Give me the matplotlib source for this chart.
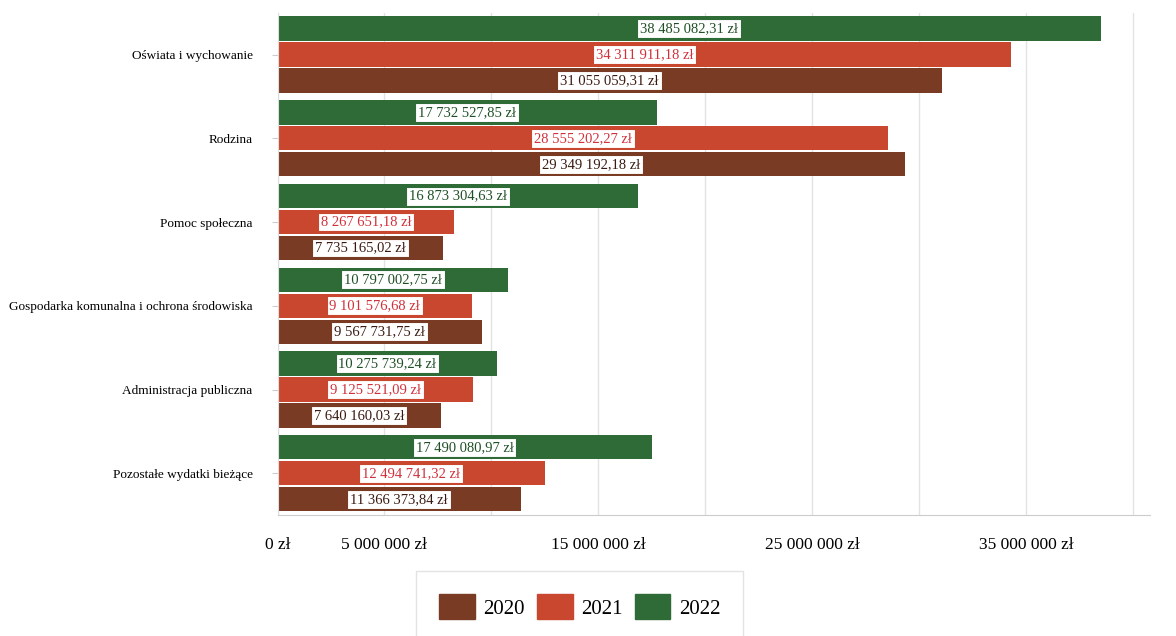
import numpy as np
import matplotlib.pyplot as plt
from matplotlib.patches import Patch

plt.rcParams['font.family'] = ['Liberation Serif', 'DejaVu Serif']

# Dane (zł)
categories = ['Oświata i wychowanie', 'Rodzina', 'Pomoc społeczna',
              'Gospodarka komunalna i ochrona środowiska',
              'Administracja publiczna', 'Pozostałe wydatki bieżące']
v2020 = [31055059.31, 29349192.18, 7735165.02, 9567731.75, 7640160.03, 11366373.84]
v2021 = [34311911.18, 28555202.27, 8267651.18, 9101576.68, 9125521.09, 12494741.32]
v2022 = [38485082.31, 17732527.85, 16873304.63, 10797002.75, 10275739.24, 17490080.97]
years = ['2020', '2021', '2022']
tick_values = [0, 5e6, 15e6, 25e6, 35e6]

colors = {'2020': '#7a3b24', '2021': '#c9472e', '2022': '#2f6b37'}
text_colors = {'2020': '#3a1a10', '2021': '#d0303a', '2022': '#1f4f25'}

def fmt(v):
    whole = int(v)
    cents = int(round((v - whole) * 100))
    s = f"{whole:,}".replace(',', ' ')
    return f"{s},{cents:02d} zł"

fig = plt.figure(figsize=(11.76, 6.36), dpi=100)
ax = fig.add_axes([0.236, 0.19, 0.742, 0.79])

y = np.arange(len(categories))
h = 0.29
offsets = {'2022': -0.31, '2021': 0.0, '2020': 0.31}
series = {'2020': v2020, '2021': v2021, '2022': v2022}

for yr in years:
    vals = series[yr]
    ax.barh(y + offsets[yr], vals, height=h, color=colors[yr], zorder=2)
    for yi, v in zip(y, vals):
        ax.text(v / 2, yi + offsets[yr], fmt(v), ha='center', va='center',
                fontsize=10.5, color=text_colors[yr], zorder=3,
                bbox=dict(boxstyle='square,pad=0.2', fc='white',
                          ec=colors[yr], lw=0.8))

ax.set_yticks(y)
ax.set_yticklabels(categories, fontsize=9.5)
ax.set_ylim(len(categories) - 0.5, -0.5)
ax.set_xlim(0, 40.8e6)

ticks = np.arange(0, 41e6, 5e6)
ax.set_xticks(ticks)
ax.set_xticklabels([f"{int(t):,} zł".replace(',', ' ') if t in tick_values else ''
                    for t in ticks], fontsize=12.5)
ax.tick_params(axis='x', length=0, pad=16)
ax.tick_params(axis='y', length=4, color='#cccccc', pad=14)
ax.grid(axis='x', color='#e3e3e3', lw=1, zorder=0)

for side in ['top', 'right']:
    ax.spines[side].set_visible(False)
ax.spines['left'].set_color('#dddddd')
ax.spines['bottom'].set_color('#cccccc')

handles = [Patch(color=colors[yr], label=yr) for yr in years]
leg = fig.legend(handles=handles, loc='lower center', bbox_to_anchor=(0.493, -0.01),
                 ncol=3, fontsize=15, frameon=True, handlelength=1.7,
                 handleheight=1.5, columnspacing=0.6, handletextpad=0.4,
                 borderpad=1.1, borderaxespad=0, fancybox=False)
leg.get_frame().set_edgecolor('#dddddd')

fig.savefig('out.png', dpi=100)
